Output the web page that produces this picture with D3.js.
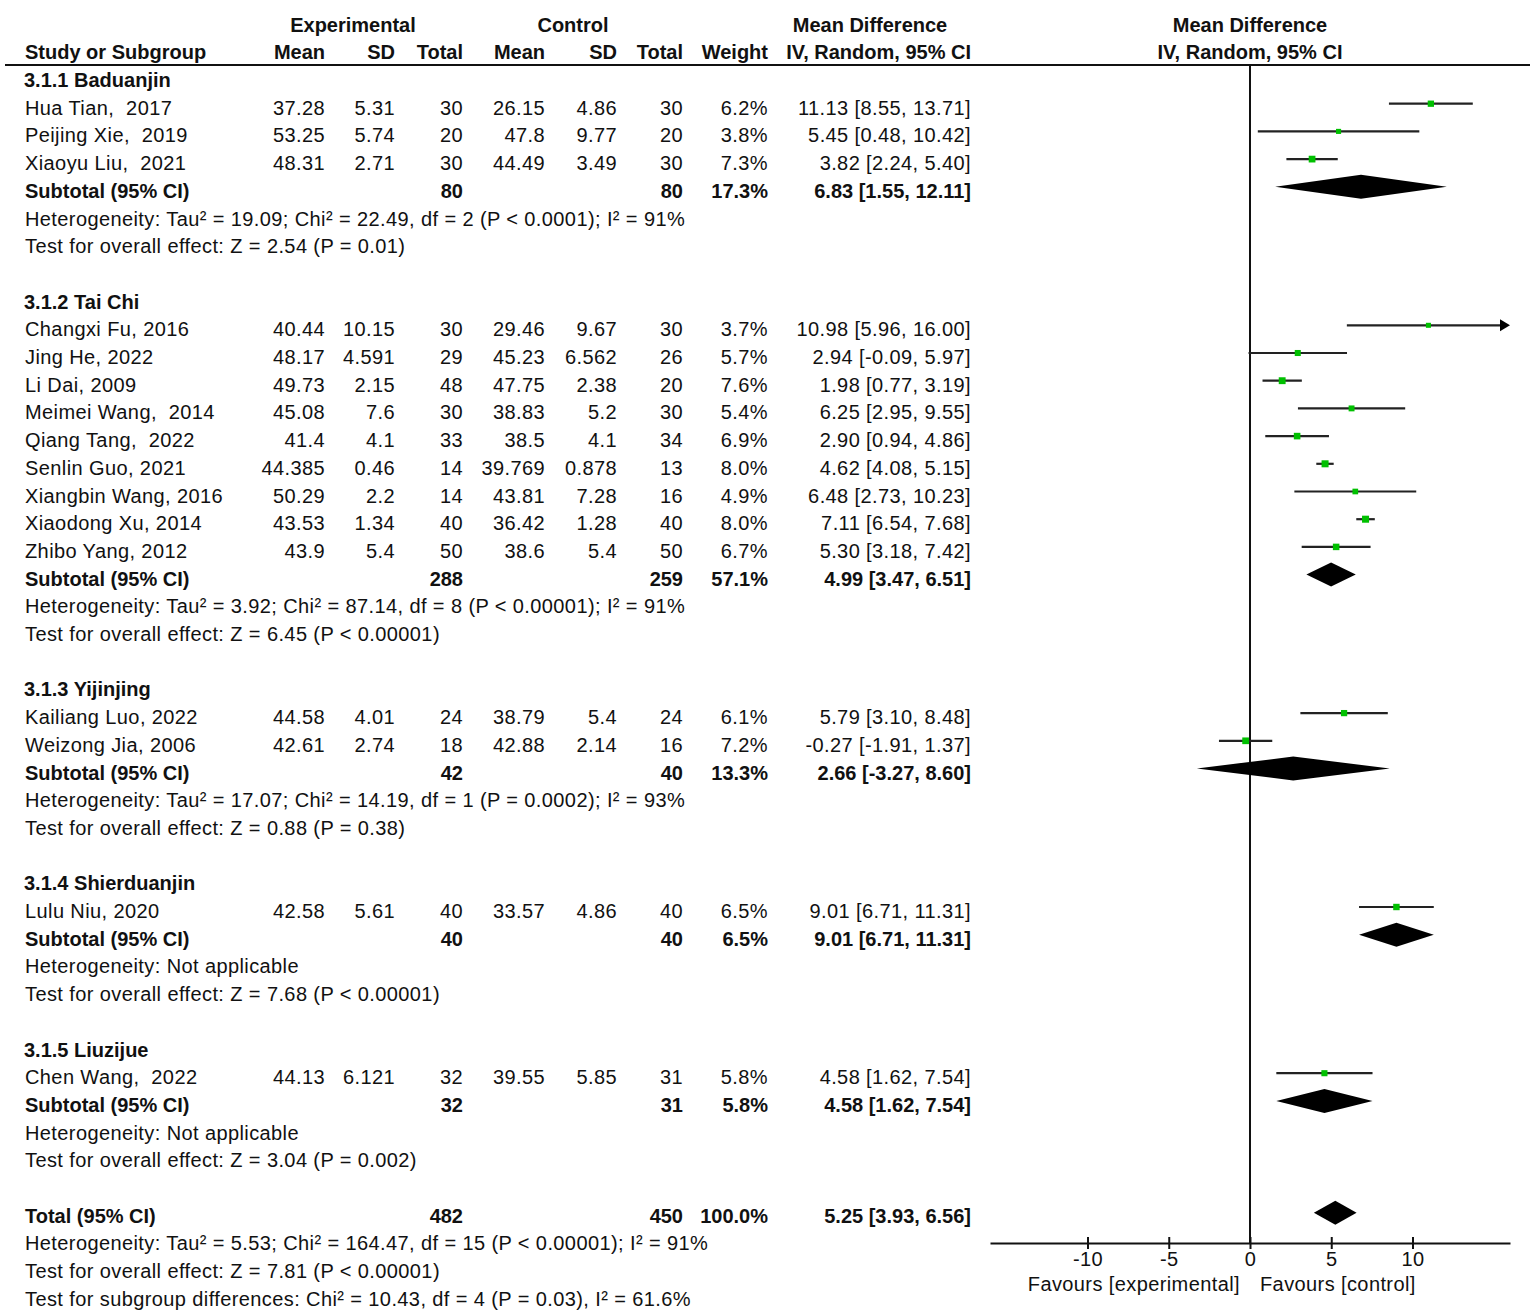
<!DOCTYPE html>
<meta charset="utf-8">
<style>
  body{ margin:0; background:#fff; }
  text{
    font-family: "Liberation Sans", Arial, sans-serif;
    font-size: 20px;
    fill: #111;
    white-space: pre;
    letter-spacing: 0.4px;
  }
  .b{ font-weight: bold; letter-spacing: 0; }
</style>

<svg width="1535" height="1315"></svg>

<script src="https://d3js.org/d3.v7.min.js"></script>
<script>
  // data
  const groups = ['3.1.1 Baduanjin', '3.1.2 Tai Chi', '3.1.3 Yijinjing', '3.1.4 Shierduanjin', '3.1.5 Liuzijue']

  const studyNames = ['Hua Tian,  2017', 'Peijing Xie,  2019', 'Xiaoyu Liu,  2021',
    'Changxi Fu, 2016', 'Jing He, 2022', 'Li Dai, 2009', 'Meimei Wang,  2014', 'Qiang Tang,  2022',
    'Senlin Guo, 2021', 'Xiangbin Wang, 2016', 'Xiaodong Xu, 2014', 'Zhibo Yang, 2012',
    'Kailiang Luo, 2022', 'Weizong Jia, 2006', 'Lulu Niu, 2020', 'Chen Wang,  2022']
  const studyGroup = [0, 0, 0, 1, 1, 1, 1, 1, 1, 1, 1, 1, 2, 2, 3, 4]

  const expMean = ['37.28', '53.25', '48.31', '40.44', '48.17', '49.73', '45.08', '41.4', '44.385', '50.29', '43.53', '43.9', '44.58', '42.61', '42.58', '44.13']
  const expSD = ['5.31', '5.74', '2.71', '10.15', '4.591', '2.15', '7.6', '4.1', '0.46', '2.2', '1.34', '5.4', '4.01', '2.74', '5.61', '6.121']
  const expN = [30, 20, 30, 30, 29, 48, 30, 33, 14, 14, 40, 50, 24, 18, 40, 32]
  const ctlMean = ['26.15', '47.8', '44.49', '29.46', '45.23', '47.75', '38.83', '38.5', '39.769', '43.81', '36.42', '38.6', '38.79', '42.88', '33.57', '39.55']
  const ctlSD = ['4.86', '9.77', '3.49', '9.67', '6.562', '2.38', '5.2', '4.1', '0.878', '7.28', '1.28', '5.4', '5.4', '2.14', '4.86', '5.85']
  const ctlN = [30, 20, 30, 30, 26, 20, 30, 34, 13, 16, 40, 50, 24, 16, 40, 31]
  const weight = [6.2, 3.8, 7.3, 3.7, 5.7, 7.6, 5.4, 6.9, 8.0, 4.9, 8.0, 6.7, 6.1, 7.2, 6.5, 5.8]
  const md = [11.13, 5.45, 3.82, 10.98, 2.94, 1.98, 6.25, 2.90, 4.62, 6.48, 7.11, 5.30, 5.79, -0.27, 9.01, 4.58]
  const ciLow = [8.55, 0.48, 2.24, 5.96, -0.09, 0.77, 2.95, 0.94, 4.08, 2.73, 6.54, 3.18, 3.10, -1.91, 6.71, 1.62]
  const ciHigh = [13.71, 10.42, 5.40, 16.00, 5.97, 3.19, 9.55, 4.86, 5.15, 10.23, 7.68, 7.42, 8.48, 1.37, 11.31, 7.54]

  // subtotals
  const subExpN = [80, 288, 42, 40, 32]
  const subCtlN = [80, 259, 40, 40, 31]
  const subWeight = [17.3, 57.1, 13.3, 6.5, 5.8]
  const subMd = [6.83, 4.99, 2.66, 9.01, 4.58]
  const subLow = [1.55, 3.47, -3.27, 6.71, 1.62]
  const subHigh = [12.11, 6.51, 8.60, 11.31, 7.54]
  const subHet = [
    'Heterogeneity: Tau² = 19.09; Chi² = 22.49, df = 2 (P < 0.0001); I² = 91%',
    'Heterogeneity: Tau² = 3.92; Chi² = 87.14, df = 8 (P < 0.00001); I² = 91%',
    'Heterogeneity: Tau² = 17.07; Chi² = 14.19, df = 1 (P = 0.0002); I² = 93%',
    'Heterogeneity: Not applicable',
    'Heterogeneity: Not applicable']
  const subTest = [
    'Test for overall effect: Z = 2.54 (P = 0.01)',
    'Test for overall effect: Z = 6.45 (P < 0.00001)',
    'Test for overall effect: Z = 0.88 (P = 0.38)',
    'Test for overall effect: Z = 7.68 (P < 0.00001)',
    'Test for overall effect: Z = 3.04 (P = 0.002)']

  // overall
  const totalExpN = 482, totalCtlN = 450, totalWeight = 100.0
  const totalMd = 5.25, totalLow = 3.93, totalHigh = 6.56
  const totalNotes = [
    'Heterogeneity: Tau² = 5.53; Chi² = 164.47, df = 15 (P < 0.00001); I² = 91%',
    'Test for overall effect: Z = 7.81 (P < 0.00001)',
    'Test for subgroup differences: Chi² = 10.43, df = 4 (P = 0.03), I² = 61.6%']

  const axisTicks = [-10, -5, 0, 5, 10]
  const axisDomain = [-16, 16]

  // layout
  const rowTop = 80, rowStep = 27.7
  const col = { name: 25, eMean: 325, eSD: 395, eN: 463, cMean: 545, cSD: 617, cN: 683, w: 768, ci: 971 }
  const plotLeft = 990, plotRight = 1510, headerLine = 65, axisY = 1243

  const svg = d3.select('svg')
  const x = d3.scaleLinear().domain(axisDomain).range([plotLeft, plotRight])
  const rowY = i => rowTop + i * rowStep

  const f2 = v => v.toFixed(2)
  const ciText = (m, lo, hi) => f2(m) + ' [' + f2(lo) + ', ' + f2(hi) + ']'
  const pct = v => v.toFixed(1) + '%'

  function txt(xx, yy, s, anchor, bold){
    svg.append('text')
      .attr('x', xx)
      .attr('y', yy + 7)
      .attr('text-anchor', anchor || 'start')
      .attr('class', bold ? 'b' : null)
      .text(s)
  }

  // build rows
  let rows = []
  groups.forEach((g, gi)=>{
    rows.push({ type: 'group', label: g })
    studyNames.forEach((n, i)=>{
      if(studyGroup[i] === gi) rows.push({ type: 'study', i: i })
    })
    rows.push({ type: 'sub', g: gi })
    rows.push({ type: 'note', label: subHet[gi] })
    rows.push({ type: 'note', label: subTest[gi] })
    rows.push({ type: 'blank' })
  })
  rows.push({ type: 'total' })
  totalNotes.forEach(t => rows.push({ type: 'note', label: t }))

  // headers
  txt(353, 25, 'Experimental', 'middle', true)
  txt(573, 25, 'Control', 'middle', true)
  txt(870, 25, 'Mean Difference', 'middle', true)
  txt(1250, 25, 'Mean Difference', 'middle', true)
  txt(col.name, 52, 'Study or Subgroup', 'start', true)
  txt(col.eMean, 52, 'Mean', 'end', true)
  txt(col.eSD, 52, 'SD', 'end', true)
  txt(col.eN, 52, 'Total', 'end', true)
  txt(col.cMean, 52, 'Mean', 'end', true)
  txt(col.cSD, 52, 'SD', 'end', true)
  txt(col.cN, 52, 'Total', 'end', true)
  txt(col.w, 52, 'Weight', 'end', true)
  txt(col.ci, 52, 'IV, Random, 95% CI', 'end', true)
  txt(1250, 52, 'IV, Random, 95% CI', 'middle', true)

  svg.append('line')
    .attr('x1', 5).attr('x2', 1530)
    .attr('y1', headerLine).attr('y2', headerLine)
    .attr('stroke', '#111').attr('stroke-width', 2)

  // zero line
  svg.append('line')
    .attr('x1', x(0)).attr('x2', x(0))
    .attr('y1', headerLine).attr('y2', axisY)
    .attr('stroke', '#111').attr('stroke-width', 2)

  function diamond(m, lo, hi, yy){
    svg.append('path')
      .attr('d', 'M' + x(lo) + ',' + yy + 'L' + x(m) + ',' + (yy - 12) + 'L' + x(hi) + ',' + yy + 'L' + x(m) + ',' + (yy + 12) + 'Z')
      .attr('fill', '#000')
  }

  rows.forEach((r, ri)=>{
    const yy = rowY(ri)
    const my = yy - 4
    if(r.type === 'group'){
      txt(col.name - 1, yy, r.label, 'start', true)
    }else if(r.type === 'study'){
      const i = r.i
      txt(col.name, yy, studyNames[i])
      txt(col.eMean, yy, expMean[i], 'end')
      txt(col.eSD, yy, expSD[i], 'end')
      txt(col.eN, yy, String(expN[i]), 'end')
      txt(col.cMean, yy, ctlMean[i], 'end')
      txt(col.cSD, yy, ctlSD[i], 'end')
      txt(col.cN, yy, String(ctlN[i]), 'end')
      txt(col.w, yy, pct(weight[i]), 'end')
      txt(col.ci, yy, ciText(md[i], ciLow[i], ciHigh[i]), 'end')

      const clipped = ciHigh[i] >= axisDomain[1]
      const hi = Math.min(ciHigh[i], axisDomain[1])
      svg.append('line')
        .attr('x1', x(ciLow[i])).attr('x2', clipped ? x(hi) - 6 : x(hi))
        .attr('y1', my).attr('y2', my)
        .attr('stroke', '#222').attr('stroke-width', 2.2)
      if(clipped){
        svg.append('path')
          .attr('d', 'M' + (x(hi) - 10) + ',' + (my - 6) + 'L' + x(hi) + ',' + my + 'L' + (x(hi) - 10) + ',' + (my + 6) + 'Z')
          .attr('fill', '#000')
      }
      const s = 2.2 * Math.sqrt(weight[i]) + 0.8
      svg.append('rect')
        .attr('x', x(md[i]) - s / 2).attr('y', my - s / 2)
        .attr('width', s).attr('height', s)
        .attr('fill', '#00c000')
    }else if(r.type === 'sub'){
      const g = r.g
      txt(col.name, yy, 'Subtotal (95% CI)', 'start', true)
      txt(col.eN, yy, String(subExpN[g]), 'end', true)
      txt(col.cN, yy, String(subCtlN[g]), 'end', true)
      txt(col.w, yy, pct(subWeight[g]), 'end', true)
      txt(col.ci, yy, ciText(subMd[g], subLow[g], subHigh[g]), 'end', true)
      diamond(subMd[g], subLow[g], subHigh[g], my)
    }else if(r.type === 'note'){
      txt(col.name, yy, r.label)
    }else if(r.type === 'total'){
      txt(col.name, yy, 'Total (95% CI)', 'start', true)
      txt(col.eN, yy, String(totalExpN), 'end', true)
      txt(col.cN, yy, String(totalCtlN), 'end', true)
      txt(col.w, yy, pct(totalWeight), 'end', true)
      txt(col.ci, yy, ciText(totalMd, totalLow, totalHigh), 'end', true)
      diamond(totalMd, totalLow, totalHigh, yy - 3)
    }
  })

  // axis
  const axis = svg.append('g')
    .attr('transform', 'translate(0,' + axisY + ')')
    .call(d3.axisBottom(x).tickValues(axisTicks).tickSize(6).tickSizeOuter(0).tickFormat(d => String(d)))
  axis.select('.domain').attr('stroke', '#111').attr('stroke-width', 2)
  axis.selectAll('.tick line').attr('y1', -6).attr('stroke', '#111').attr('stroke-width', 2)
  axis.selectAll('.tick text').attr('y', 9)

  txt(x(0) - 10, 1284, 'Favours [experimental]', 'end')
  txt(x(0) + 10, 1284, 'Favours [control]', 'start')
</script>
